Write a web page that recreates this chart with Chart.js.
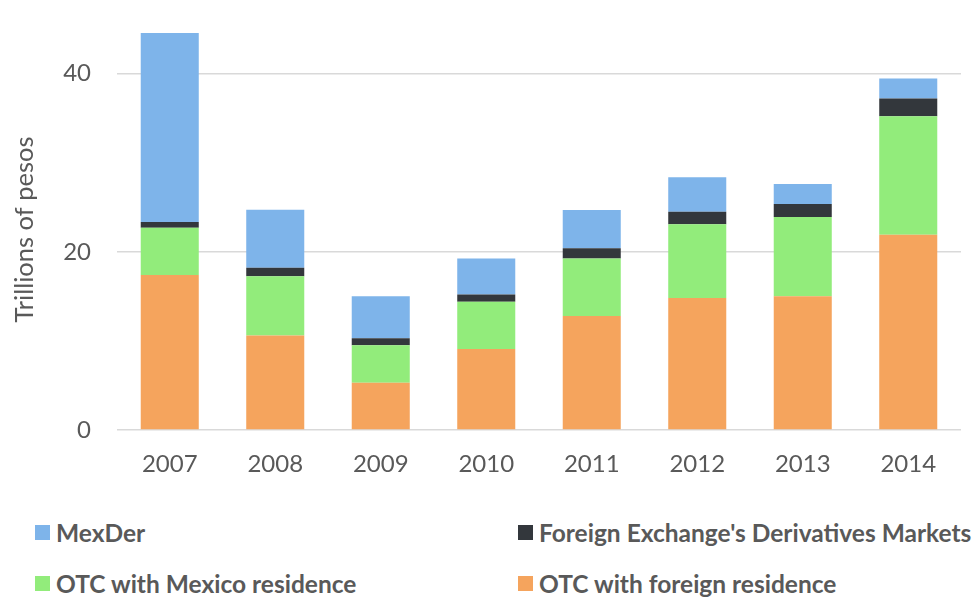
<!DOCTYPE html>
<html>
<head>
<meta charset="utf-8">
<script src="https://cdn.jsdelivr.net/npm/chart.js@4"></script>
<style>
  body { margin: 0; background: #fff; }
  #wrap { position: relative; width: 976px; height: 597px; }
  #box { position: absolute; left: 0; top: 0; width: 976px; height: 500px; }
  .item { position: absolute; font-family: Lato, sans-serif; font-weight: bold; font-size: 24.5px; color: #595959; white-space: nowrap; line-height: 28px; }
  .item span.sw { position: absolute; left: -21px; top: 6px; width: 15px; height: 15px; }
</style>
</head>
<body>
<div id="wrap">
  <div id="box"><canvas id="chart"></canvas></div>
  <div id="legend"></div>
</div>
<script>
const years = ['2007', '2008', '2009', '2010', '2011', '2012', '2013', '2014'];

// trillions of pesos, stacked bottom to top
const otcForeign = [17.4, 10.6, 5.3, 9.1, 12.8, 14.8, 15.0, 21.9];
const otcMexico  = [5.3, 6.65, 4.2, 5.3, 6.45, 8.3, 8.9, 13.3];
const fxMarkets  = [0.65, 0.97, 0.8, 0.8, 1.15, 1.4, 1.45, 2.0];
const mexDer     = [21.2, 6.5, 4.7, 4.05, 4.3, 3.85, 2.25, 2.25];

const yTicks = [0, 20, 40];
const textColor = '#595959';

const data = {
    labels: years,
    datasets: [
        { label: 'OTC with foreign residence', data: otcForeign, backgroundColor: '#F5A45D' },
        { label: 'OTC with Mexico residence', data: otcMexico, backgroundColor: '#92EC7B' },
        { label: "Foreign Exchange's Derivatives Markets", data: fxMarkets, backgroundColor: '#33373C' },
        { label: 'MexDer', data: mexDer, backgroundColor: '#7EB4EA' }
    ]
};

const config = {
    type: 'bar',
    data: data,
    options: {
        responsive: true,
        maintainAspectRatio: false,
        animation: false,
        layout: { padding: { top: 29, right: 15, left: 0, bottom: 0 } },
        datasets: {
            bar: { categoryPercentage: 1, barPercentage: 0.55, borderWidth: 0 }
        },
        scales: {
            x: {
                stacked: true,
                grid: { display: false, drawTicks: false },
                border: { display: false },
                ticks: {
                    color: textColor,
                    padding: 20,
                    font: { family: 'Lato', size: 24 }
                },
                afterFit: (scale) => { scale.height = 70; }
            },
            y: {
                stacked: true,
                min: 0,
                max: 45,
                afterBuildTicks: (scale) => {
                    scale.ticks = yTicks.map(v => ({ value: v }));
                },
                grid: { color: '#D9D9D9', lineWidth: 1.5, drawTicks: false },
                border: { display: false },
                ticks: {
                    color: textColor,
                    padding: 26,
                    font: { family: 'Lato', size: 24 }
                },
                title: {
                    display: true,
                    text: 'Trillions of pesos',
                    color: textColor,
                    padding: { top: 9, bottom: 0 },
                    font: { family: 'Lato', size: 25.5 }
                },
                afterFit: (scale) => {
                    scale.width = 117;
                    // tick padding would otherwise push the chart area down
                    scale.paddingTop = 0;
                    scale.paddingBottom = 0;
                }
            }
        },
        plugins: {
            legend: { display: false },
            tooltip: { enabled: false }
        }
    }
};

const chart = new Chart(document.getElementById('chart').getContext('2d'), config);

// two-column legend, in the order of the original
const legendOrder = [3, 2, 1, 0];
const legendPos = [[56, 519], [539, 519], [56, 570], [539, 570]];
const legend = document.getElementById('legend');
legendOrder.forEach((idx, i) => {
    const ds = data.datasets[idx];
    const el = document.createElement('div');
    el.className = 'item';
    el.style.left = legendPos[i][0] + 'px';
    el.style.top = legendPos[i][1] + 'px';
    const sw = document.createElement('span');
    sw.className = 'sw';
    sw.style.background = ds.backgroundColor;
    el.appendChild(sw);
    el.appendChild(document.createTextNode(ds.label));
    legend.appendChild(el);
});
</script>
</body>
</html>
